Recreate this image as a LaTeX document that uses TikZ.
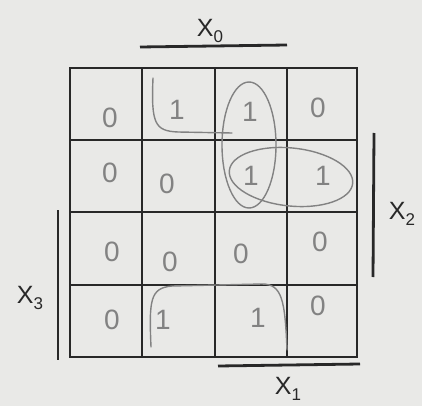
\documentclass[tikz,border=0pt]{standalone}
\usepackage{fontspec}
\setmainfont{Liberation Sans}
\definecolor{paper}{RGB}{233,233,231}
\definecolor{ink}{RGB}{40,40,40}
\definecolor{pencil}{RGB}{130,130,130}
\tikzset{
  gridline/.style={draw=ink, line width=2.6pt},
  barline/.style={draw=ink, line width=2.8pt},
  val/.style={text=pencil, font=\fontsize{28}{28}\selectfont, inner sep=0pt},
  lbl/.style={text=ink, font=\fontsize{25}{25}\selectfont, inner sep=0pt},
  grp/.style={draw=pencil, line width=1.4pt, line cap=round, line join=round}
}
\newcommand{\lab}[2]{#1\raisebox{-0.45ex}{\fontsize{17}{17}\selectfont #2}}
\begin{document}
\begin{tikzpicture}[x=1pt,y=-1pt]
\fill[paper] (0,0) rectangle (422,406);
\useasboundingbox (0,0) rectangle (422,406);
% grid
\draw[gridline] (70,68) rectangle (357,357);
\foreach \x in {142,215,287} \draw[gridline] (\x,68) -- (\x,357);
\foreach \y in {140,212,285} \draw[gridline] (70,\y) -- (357,\y);
% values
\node[val] (a1) at (110,118) {0};
\node[val] (a2) at (177,110) {1};
\node[val] (a3) at (250,112) {1};
\node[val] (a4) at (318,108) {0};
\node[val] (b1) at (110,173) {0};
\node[val] (b2) at (167,184) {0};
\node[val] (b3) at (251,176) {1};
\node[val] (b4) at (323,176) {1};
\node[val] (c1) at (112,252) {0};
\node[val] (c2) at (170,262) {0};
\node[val] (c3) at (241,254) {0};
\node[val] (c4) at (320,242) {0};
\node[val] (d1) at (112,320) {0};
\node[val] (d2) at (163,320) {1};
\node[val] (d3) at (258,318) {1};
\node[val] (d4) at (318,306) {0};
% groups
\draw[grp] (153,78) .. controls (151,124) and (155,131) .. (178,132) -- (232,133);
\draw[grp] (249,145) ellipse [x radius=27, y radius=63];
\draw[grp, rotate around={-6:(291,177)}] (291,177) ellipse [x radius=62, y radius=29];
\draw[grp] (151,347) .. controls (149,300) and (150,288) .. (172,286) -- (262,284) .. controls (282,284) and (285,300) .. (287,350);
% bars
\coordinate (x0a) at (140,47); \coordinate (x0b) at (287,45);
\coordinate (x2a) at (374,133); \coordinate (x2b) at (373,277);
\coordinate (x3a) at (58,210); \coordinate (x3b) at (58,360);
\coordinate (x1a) at (218,366); \coordinate (x1b) at (360,364);
\draw[barline] (x0a) -- (x0b);
\draw[barline] (x2a) -- (x2b);
\draw[barline] (x3a) -- (x3b);
\draw[barline] (x1a) -- (x1b);
% labels
\node[lbl] (l0) at (210,31) {\lab{X}{0}};
\node[lbl] (l2) at (402,214) {\lab{X}{2}};
\node[lbl] (l3) at (30,298) {\lab{X}{3}};
\node[lbl] (l1) at (288,389) {\lab{X}{1}};
\end{tikzpicture}
\end{document}
